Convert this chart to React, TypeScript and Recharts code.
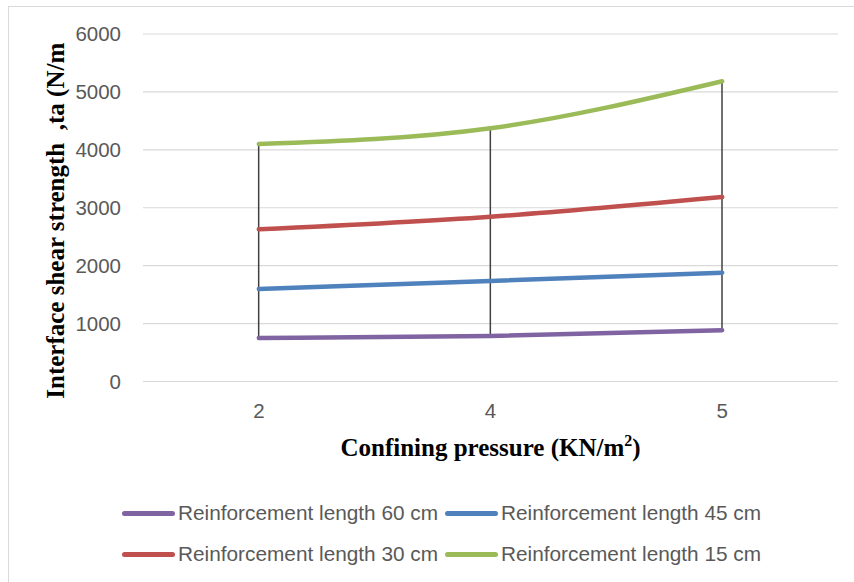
import { ComposedChart, Line, Bar, XAxis, YAxis, CartesianGrid, Legend } from 'recharts';

const categories = ['2', '4', '5'];
const len60 = [750, 786, 884];
const len45 = [1597, 1736, 1879];
const len30 = [2628, 2846, 3186];
const len15 = [4100, 4373, 5185];
const yTicks = [0, 1000, 2000, 3000, 4000, 5000, 6000];

const series = [
  { key: 's60', name: 'Reinforcement length 60 cm', color: '#8064A2' },
  { key: 's45', name: 'Reinforcement length 45 cm', color: '#4F81BD' },
  { key: 's30', name: 'Reinforcement length 30 cm', color: '#C0504D' },
  { key: 's15', name: 'Reinforcement length 15 cm', color: '#9BBB59' },
];

const data = categories.map((c, i) => {
  const vals = [len60[i], len45[i], len30[i], len15[i]];
  return {
    pressure: c,
    s60: len60[i],
    s45: len45[i],
    s30: len30[i],
    s15: len15[i],
    range: [Math.min(...vals), Math.max(...vals)],
  };
});

const sans = '"Liberation Sans", Arial, sans-serif';
const serif = '"Liberation Serif", "Times New Roman", serif';
const tickStyle = { fontSize: 20.5, fill: '#595959', fontFamily: sans };

// vertical high-low line drawn from the lowest to the highest series value
function HighLow(props: any) {
  const { x, y, width, height } = props;
  const cx = x + width / 2;
  const top = Math.min(y, y + height);
  const bottom = Math.max(y, y + height);
  return <line x1={cx} x2={cx} y1={top} y2={bottom} stroke="#404040" strokeWidth={1.5} />;
}

function LegendBox() {
  const rows = [[series[0], series[1]], [series[2], series[3]]];
  return (
    <div style={{ position: 'relative', width: 845, height: 95 }}>
      {rows.map((row, r) =>
        row.map((s, c) => (
          <div
            key={s.key}
            style={{
              position: 'absolute',
              left: c === 0 ? 113 : 436,
              top: r === 0 ? 14 : 55,
              height: 24,
              display: 'flex',
              alignItems: 'center',
              whiteSpace: 'nowrap',
              fontFamily: sans,
              fontSize: 20.8,
              color: '#595959',
            }}
          >
            <span style={{ display: 'inline-block', width: 53, height: 5, borderRadius: 3, background: s.color, marginRight: 3 }} />
            {s.name}
          </div>
        ))
      )}
    </div>
  );
}

export default function App() {
  return (
    <div
      style={{
        position: 'absolute',
        left: 8,
        top: 6,
        width: 846,
        height: 576,
        boxSizing: 'border-box',
        borderLeft: '1px solid #d9d9d9',
        borderTop: '1px solid #d9d9d9',
        background: '#fff',
      }}
    >
      <ComposedChart width={845} height={575} data={data} margin={{ top: 27, right: 16, left: 0, bottom: 0 }}>
        <CartesianGrid vertical={false} stroke="#d9d9d9" strokeWidth={1.2} />
        <XAxis
          dataKey="pressure"
          axisLine={false}
          tickLine={false}
          tickSize={0}
          tickMargin={22}
          height={200.5}
          tick={tickStyle}
          label={{
            content: (p: any) => {
              const vb = p.viewBox;
              return (
                <text
                  x={vb.x + vb.width / 2}
                  y={vb.y + 74.5}
                  textAnchor="middle"
                  fontFamily={serif}
                  fontWeight="bold"
                  fontSize={25}
                  fill="#000"
                >
                  Confining pressure (KN/m<tspan dy={-10} fontSize={16}>2</tspan><tspan dy={10}>)</tspan>
                </text>
              );
            },
          }}
        />
        <YAxis
          domain={[0, 6000]}
          ticks={yTicks}
          width={134}
          axisLine={false}
          tickLine={false}
          tickSize={0}
          tickMargin={22}
          tick={tickStyle}
          label={{
            content: (p: any) => {
              const vb = p.viewBox;
              const cy = vb.y + vb.height / 2 + 13;
              return (
                <text
                  x={55}
                  y={cy}
                  transform={`rotate(-90, 55, ${cy})`}
                  textAnchor="middle"
                  fontFamily={serif}
                  fontWeight="bold"
                  fontSize={25}
                  fill="#000"
                  style={{ whiteSpace: 'pre' }}
                >
                  {'Interface shear strength  ,ta (N/m'}
                </text>
              );
            },
          }}
        />
        {series.map((s) => (
          <Line
            key={s.key}
            type="monotone"
            dataKey={s.key}
            name={s.name}
            stroke={s.color}
            strokeWidth={4.5}
            strokeLinecap="round"
            dot={false}
            activeDot={false}
            isAnimationActive={false}
          />
        ))}
        <Bar dataKey="range" shape={HighLow} legendType="none" isAnimationActive={false} />
        <Legend
          verticalAlign="middle"
          align="center"
          content={() => <LegendBox />}
          wrapperStyle={{ left: 0, top: 480, width: 845, height: 95 }}
        />
      </ComposedChart>
    </div>
  );
}
